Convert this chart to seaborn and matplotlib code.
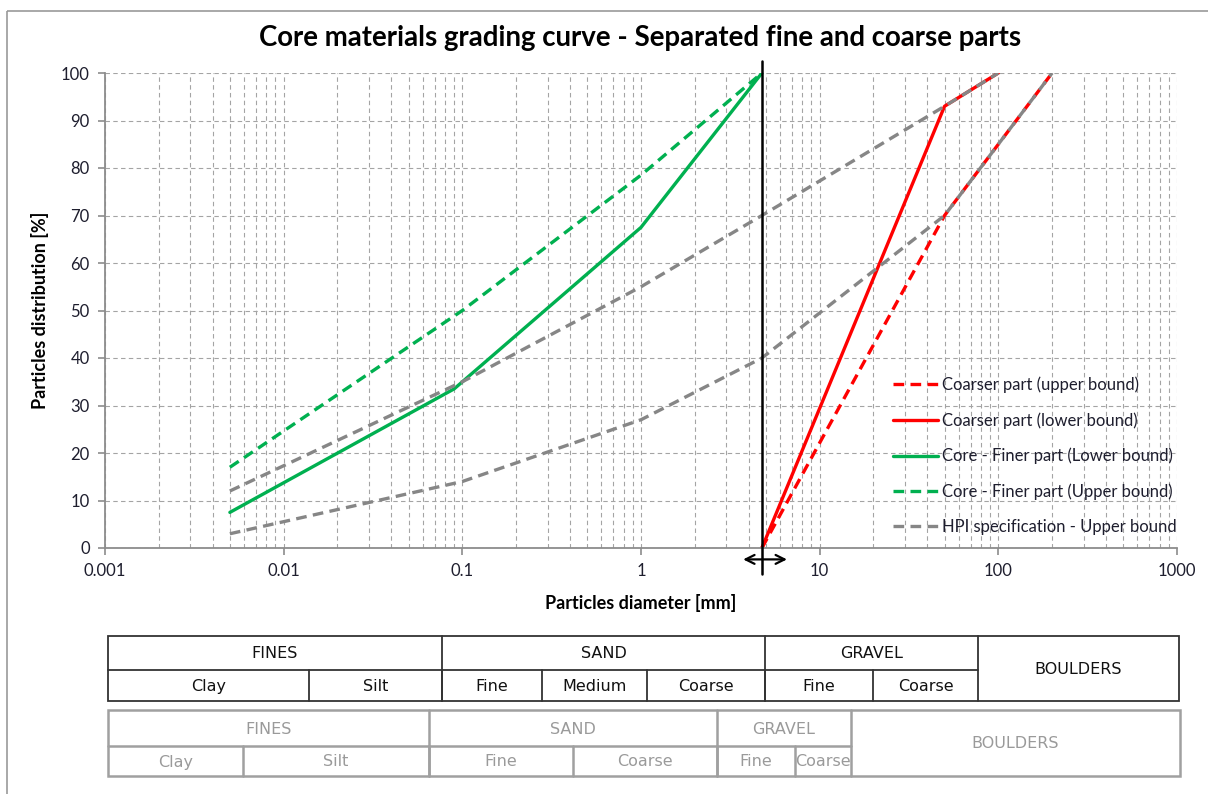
import numpy as np
import pandas as pd
import seaborn as sns
import matplotlib.pyplot as plt
from matplotlib.lines import Line2D
from matplotlib.patches import Rectangle
from matplotlib.ticker import FixedLocator, LogLocator, NullFormatter

# grading curves: diameter [mm] and passing [%]
coarse_upper_d = [4.75, 50, 200]
coarse_upper_p = [0, 70, 100]
coarse_lower_d = [4.75, 50, 100]
coarse_lower_p = [0, 93, 100]
core_lower_d = [0.005, 0.09, 1, 4.75]
core_lower_p = [7.5, 33.5, 67.5, 100]
core_upper_d = [0.005, 0.1, 1, 4.75]
core_upper_p = [17, 50, 78.5, 100]
hpi_upper_d = [0.005, 0.1, 1, 4.75, 50, 100]
hpi_upper_p = [12, 35, 55, 70, 93, 100]
hpi_lower_d = [0.005, 0.1, 1, 4.75, 50, 200]
hpi_lower_p = [3, 14, 27, 40, 70, 100]
split_d = 4.75

x_ticks = [0.001, 0.01, 0.1, 1, 10, 100, 1000]
x_ticklabels = ['0.001', '0.01', '0.1', '1', '10', '100', '1000']
y_ticks = list(range(0, 101, 10))

# soil classification tables
t1_main = ['FINES', 'SAND', 'GRAVEL', 'BOULDERS']
t1_sub = ['Clay', 'Silt', 'Fine', 'Medium', 'Coarse', 'Fine', 'Coarse']
t2_main = ['FINES', 'SAND', 'GRAVEL', 'BOULDERS']
t2_sub = ['Clay', 'Silt', 'Fine', 'Coarse', 'Fine', 'Coarse']

#%% style
sns.set_theme(style='white')
plt.rcParams['font.family'] = ['Lato', 'DejaVu Sans']

GREEN = '#00b050'
RED = '#ff0000'
GREY = '#868686'
TXT = '#1e1e2e'
DASH = (0, (3.2, 1.9))

W, H = 1208, 794
fig = plt.figure(figsize=(W / 100, H / 100), dpi=100)
ax = fig.add_axes([105 / W, 1 - 548 / H, (1177 - 105) / W, (548 - 73) / H])

#%% curves
curves = [
    (core_lower_d, core_lower_p, GREEN, '-', 'Core - Finer part (Lower bound)'),
    (core_upper_d, core_upper_p, GREEN, DASH, 'Core - Finer part (Upper bound)'),
    (coarse_lower_d, coarse_lower_p, RED, '-', 'Coarser part (lower bound)'),
    (coarse_upper_d, coarse_upper_p, RED, DASH, 'Coarser part (upper bound)'),
    (hpi_upper_d, hpi_upper_p, GREY, DASH, 'HPI specification - Upper bound'),
    (hpi_lower_d, hpi_lower_p, GREY, DASH, None),
]
for d, p, c, ls, lab in curves:
    sns.lineplot(x=d, y=p, ax=ax, color=c, linestyle=ls, linewidth=2.4,
                 estimator=None, sort=False, legend=False)

ax.set_xscale('log')
ax.set_xlim(0.001, 1000)
ax.set_ylim(0, 100)
ax.xaxis.set_major_locator(FixedLocator(x_ticks))
ax.set_xticks(x_ticks, x_ticklabels)
ax.xaxis.set_minor_locator(LogLocator(base=10, subs=np.arange(2, 10)))
ax.xaxis.set_minor_formatter(NullFormatter())
ax.set_yticks(y_ticks)

ax.grid(which='both', axis='x', linestyle=(0, (4, 3)), color='#a4a4a4', linewidth=0.8)
ax.grid(which='major', axis='y', linestyle=(0, (4, 3)), color='#a4a4a4', linewidth=0.8)
for s in ['top', 'right']:
    ax.spines[s].set_visible(False)
for s in ['left', 'bottom']:
    ax.spines[s].set_color('#8c8c8c')
    ax.spines[s].set_linewidth(1.3)
ax.tick_params(which='major', direction='out', length=5, width=1.2, color='#8c8c8c',
               labelsize=12, labelcolor=TXT, pad=6, left=True, bottom=True)
ax.tick_params(which='minor', length=0)

ax.set_xlabel('Particles diameter [mm]', fontsize=13, fontweight='bold', color='black')
ax.set_ylabel('Particles distribution [%]', fontsize=13, fontweight='bold', color='black')
ax.xaxis.set_label_coords(0.5, -0.116)
ax.xaxis.label.set_va('center')
ax.yaxis.set_label_coords(-0.061, 0.5)
ax.yaxis.label.set_va('center')

# fine / coarse split line with arrow
ax.plot([split_d, split_d], [102.5, -5.5], color='black', linewidth=1.8, clip_on=False, zorder=5)
ax.annotate('', xy=(3.6, -2.4), xytext=(6.8, -2.4), annotation_clip=False,
            arrowprops=dict(arrowstyle='<->', color='black', lw=1.6, mutation_scale=16))

# legend
order = ['Coarser part (upper bound)', 'Coarser part (lower bound)',
         'Core - Finer part (Lower bound)', 'Core - Finer part (Upper bound)',
         'HPI specification - Upper bound']
style = {lab: (c, ls) for d, p, c, ls, lab in curves if lab}
handles = [Line2D([], [], color=style[l][0], linestyle=style[l][1], linewidth=2.4) for l in order]
ax.legend(handles, order, loc='upper left', bbox_to_anchor=((886 - 105) / 1072, (548 - 370) / 475),
          frameon=False, fontsize=12, handlelength=2.7, handletextpad=0.25,
          labelspacing=1.14, labelcolor=TXT, borderaxespad=0)

#%% overlay in pixel coordinates: title, border, tables
ov = fig.add_axes([0, 0, 1, 1], zorder=-1)
ov.set_xlim(0, W)
ov.set_ylim(H, 0)
ov.axis('off')
ov.add_patch(Rectangle((7, 11), W + 50, H + 50, fill=False, edgecolor='#9a9a9a', linewidth=1.2))
ov.text(640, 38, 'Core materials grading curve - Separated fine and coarse parts',
        ha='center', va='center', fontsize=19.9, fontweight='bold', color='black')


def draw_table(main, sub, main_edges, sub_edges, rows, color, txt_color, lw):
    top, mid, bot = rows
    left, right = main_edges[0], main_edges[-1]
    last = main_edges[-2]
    ov.add_patch(Rectangle((left, top), right - left, bot - top, fill=False,
                           edgecolor=color, linewidth=lw))
    ov.plot([left, last], [mid, mid], color=color, linewidth=lw)
    for e in main_edges[1:-1]:
        ov.plot([e, e], [top, bot], color=color, linewidth=lw)
    for e in sub_edges[1:-1]:
        ov.plot([e, e], [mid, bot], color=color, linewidth=lw)
    for i, lab in enumerate(main):
        x = (main_edges[i] + main_edges[i + 1]) / 2
        y = (top + bot) / 2 if i == len(main) - 1 else (top + mid) / 2
        ov.text(x, y + 1, lab, ha='center', va='center', fontsize=11.5,
                family='DejaVu Sans', color=txt_color)
    for i, lab in enumerate(sub):
        x = (sub_edges[i] + sub_edges[i + 1]) / 2
        ov.text(x, (mid + bot) / 2 + 1, lab, ha='center', va='center', fontsize=11.5,
                family='DejaVu Sans', color=txt_color)


draw_table(t1_main, t1_sub, [108, 442, 765, 978, 1179],
           [108, 309, 442, 542, 647, 765, 873, 978], (636, 670, 701), '#333333', '#111111', 1.3)
draw_table(t2_main, t2_sub, [108, 429, 717, 851, 1180],
           [108, 243, 429, 573, 717, 795, 851], (710, 746, 776), '#a0a0a0', '#9a9a9a', 1.8)

fig.savefig('out.png', dpi=100)
